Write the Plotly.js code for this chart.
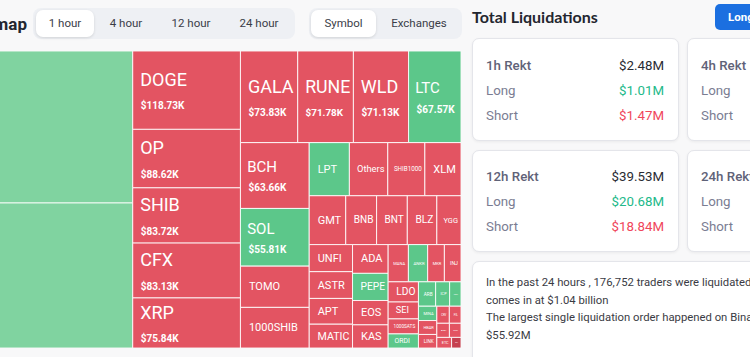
<!DOCTYPE html>
<html>
<head>
<meta charset="utf-8">
<script src="https://cdn.plot.ly/plotly-3.0.1.min.js"></script>
<style>
html,body{margin:0;padding:0;width:750px;height:357px;overflow:hidden;background:#f8f8f9;font-family:Roboto,"Noto Sans",sans-serif;}
.abs{position:absolute;}
#title{left:-223px;top:7px;width:250px;text-align:right;font-size:17px;font-weight:700;color:#23262f;line-height:34px;white-space:nowrap;}
.grp{background:#eef0f4;border-radius:8px;height:31px;top:8px;}
.pill{background:#fff;border-radius:7px;height:27px;top:10px;box-shadow:0 1px 3px rgba(0,0,0,0.12);}
.tab{top:10px;height:27px;line-height:27px;font-size:11.5px;color:#3a3d48;text-align:center;white-space:nowrap;}
#tm{left:-132px;top:51px;width:593px;height:297px;}
#rtitle{left:472px;top:3px;font-family:Lato,Roboto,sans-serif;font-size:16px;font-weight:700;color:#23262f;line-height:28px;white-space:nowrap;}
#btn{left:715px;top:4px;width:60px;height:26px;background:#1b6fe0;border-radius:5px;color:#fff;font-size:11.5px;font-weight:700;line-height:26px;padding-left:13px;box-sizing:border-box;}
.card{background:#fff;border:1px solid #e4e5ea;border-radius:7px;box-shadow:0 1px 3px rgba(0,0,0,0.06);box-sizing:border-box;}
.row{font-size:13.3px;line-height:20px;white-space:nowrap;}
.lab{color:#7a7d92;}
.head{color:#5f6278;font-weight:500;}
.val{color:#2a2b33;text-align:right;}
.g{color:#22b98a;}
.r{color:#f0465b;}
.txt{font-size:11.3px;color:#3a3b44;line-height:17.6px;white-space:nowrap;}
</style>
</head>
<body>
<div id="title" class="abs">Liquidation Heatmap</div>

<div class="abs grp" style="left:33px;width:262px;"></div>
<div class="abs pill" style="left:36px;width:58px;"></div>
<div class="abs tab" style="left:36px;width:58px;">1 hour</div>
<div class="abs tab" style="left:98px;width:56px;">4 hour</div>
<div class="abs tab" style="left:160px;width:62px;">12 hour</div>
<div class="abs tab" style="left:228px;width:62px;">24 hour</div>

<div class="abs grp" style="left:309px;width:153px;"></div>
<div class="abs pill" style="left:311px;width:65px;"></div>
<div class="abs tab" style="left:311px;width:65px;">Symbol</div>
<div class="abs tab" style="left:380px;width:78px;">Exchanges</div>

<div id="tm" class="abs"></div>

<div id="rtitle" class="abs">Total Liquidations</div>
<div id="btn" class="abs">Long</div>

<div class="abs card" style="left:472px;top:38px;width:207px;height:103px;"></div>
<div class="abs row head" style="left:486px;top:56px;">1h Rekt</div>
<div class="abs row val" style="left:560px;top:56px;width:104px;">$2.48M</div>
<div class="abs row lab" style="left:486px;top:81px;">Long</div>
<div class="abs row val g" style="left:560px;top:81px;width:104px;">$1.01M</div>
<div class="abs row lab" style="left:486px;top:106px;">Short</div>
<div class="abs row val r" style="left:560px;top:106px;width:104px;">$1.47M</div>

<div class="abs card" style="left:687px;top:38px;width:207px;height:103px;"></div>
<div class="abs row head" style="left:701px;top:56px;">4h Rekt</div>
<div class="abs row lab" style="left:701px;top:81px;">Long</div>
<div class="abs row lab" style="left:701px;top:106px;">Short</div>

<div class="abs card" style="left:472px;top:150px;width:207px;height:102px;"></div>
<div class="abs row head" style="left:486px;top:167px;">12h Rekt</div>
<div class="abs row val" style="left:560px;top:167px;width:104px;">$39.53M</div>
<div class="abs row lab" style="left:486px;top:192px;">Long</div>
<div class="abs row val g" style="left:560px;top:192px;width:104px;">$20.68M</div>
<div class="abs row lab" style="left:486px;top:217px;">Short</div>
<div class="abs row val r" style="left:560px;top:217px;width:104px;">$18.84M</div>

<div class="abs card" style="left:687px;top:150px;width:207px;height:102px;"></div>
<div class="abs row head" style="left:701px;top:167px;">24h Rekt</div>
<div class="abs row lab" style="left:701px;top:192px;">Long</div>
<div class="abs row lab" style="left:701px;top:217px;">Short</div>

<div class="abs card" style="left:472px;top:261px;width:420px;height:130px;"></div>
<div class="abs txt" style="left:486px;top:274px;">In the past 24 hours , 176,752 traders were liquidated , the total value of liquidations</div>
<div class="abs txt" style="left:486px;top:292px;">comes in at $1.04 billion</div>
<div class="abs txt" style="left:486px;top:309px;">The largest single liquidation order happened on Binance - ETHUSDT value</div>
<div class="abs txt" style="left:486px;top:327px;">$55.92M</div>

<script>
// Liquidations by symbol, last 1 hour (values in $K)
const symbols = ['BTC','ETH','DOGE','OP','SHIB','CFX','XRP','GALA','RUNE','WLD','LTC','BCH','SOL','TOMO','1000SHIB',
  'LPT','Others','SHIB1000','XLM','GMT','BNB','BNT','BLZ','YGG','UNFI','ASTR','APT','MATIC','ADA','PEPE','EOS','KAS',
  'MANA','ANKR','MKR','INJ','LDO','SEI','1000SATS','ORDI','ARB','ICP','IMX','MINA','HBAR','LINK',
  'CRV','FIL','AVAX','COMP','ETC','DYDX'];
const liqValues = [566, 540, 118.73, 88.62, 83.72, 83.13, 75.84, 73.83, 71.78, 71.13, 67.57, 63.66, 55.81, 39.9, 39.3,
  30.0, 28.7, 27.7, 27.0, 25.1, 21.2, 21.1, 20.3, 16.6, 16.5, 16.3, 15.7, 14.5, 14.4, 13.6, 12.2, 11.6,
  10.6, 10.1, 8.75, 8.7, 8.6, 7.2, 6.4, 6.0, 5.9, 4.8, 3.9, 3.7, 3.6, 3.5,
  3.0, 2.8, 2.5, 2.3, 2.2, 1.4];
const dominantSide = ['long+','long+','short','short','short','short','short','short','short','short','long','short','long','short','short',
  'long','short','short','short','short','short','short','short','short','short','short','short','short','short','long','short','short',
  'short','long','short','short','short','short','short','long','long','long','long','long','short','short',
  'short','short','short','short','short','short+'];

const sideColor = {'long+':'#80d3a0','long':'#5cc78a','short':'#e35462','short+':'#c5404f'};
const colors = dominantSide.map(s => sideColor[s]);
const NB = '\u00A0';
const templates = liqValues.map(v => v >= 50
  ? NB + '%{label}<br><span style="font-size:10px"><b>' + NB + NB + '$%{value:.2f}K</b></span>'
  : NB + NB + '%{label}');
const fontSizes = liqValues.map(v => v >= 70 ? 18 : (v >= 50 ? 15 : 11));

const trace = {
  type: 'treemap',
  labels: symbols,
  parents: symbols.map(() => ''),
  values: liqValues,
  sort: true,
  texttemplate: templates,
  textposition: 'middle left',
  textfont: {family: 'Roboto, sans-serif', color: '#ffffff', size: fontSizes},
  marker: {colors: colors, line: {color: 'rgba(255,255,255,0.85)', width: 1}, pad: {t:0, l:0, r:0, b:0}},
  tiling: {packing: 'squarify', squarifyratio: 1.72, pad: 0},
  pathbar: {visible: false},
  leaf: {opacity: 1},
  hoverinfo: 'none'
};
Plotly.newPlot('tm', [trace], {
  margin: {l:0, r:0, t:0, b:0},
  paper_bgcolor: 'rgba(0,0,0,0)',
  width: 593, height: 297
}, {staticPlot: true, displayModeBar: false});
</script>
</body>
</html>
